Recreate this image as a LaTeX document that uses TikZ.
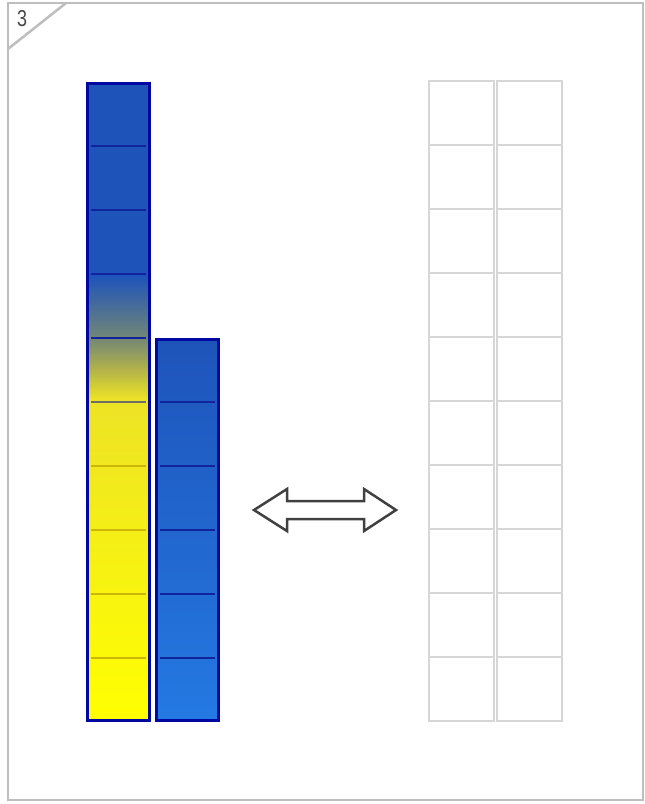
\documentclass[tikz,border=0pt]{standalone}
\usepackage{fontspec}
\setmainfont{Liberation Sans}
\definecolor{framegray}{RGB}{190,190,190}
\definecolor{cellgray}{RGB}{214,214,214}
\definecolor{barborder}{RGB}{0,8,160}
\definecolor{blueA}{RGB}{30,84,186}
\definecolor{blueB}{RGB}{36,121,226}
\definecolor{yelA}{RGB}{255,255,0}
\definecolor{yelB}{RGB}{237,227,38}
\definecolor{midY}{RGB}{180,180,72}
\definecolor{midG}{RGB}{115,135,118}
\definecolor{tickblue}{RGB}{18,36,155}
\definecolor{tickgray}{RGB}{110,110,105}
\definecolor{tickyel}{RGB}{205,182,10}
\definecolor{arrowgray}{RGB}{64,64,64}
\pgfdeclareverticalshading{barone}{100bp}{color(0bp)=(yelA); color(25bp)=(yelA); color(50.2bp)=(yelB); color(52.5bp)=(midY); color(55bp)=(midG); color(59.9bp)=(blueA); color(75bp)=(blueA); color(100bp)=(blueA)}
\pgfdeclareverticalshading{bartwo}{100bp}{color(0bp)=(blueB); color(25bp)=(blueB); color(75bp)=(blueA); color(100bp)=(blueA)}
\tikzset{
  frame/.style={draw=framegray, line width=2.5pt},
  barbox/.style={draw=barborder, line width=3pt},
  tickline/.style={line width=2.5pt},
  cellbox/.style={draw=cellgray, line width=2.5pt, fill=white},
  dblarrow/.style={draw=arrowgray, line width=2.5pt, fill=white, line join=miter},
}
\begin{document}
\begin{tikzpicture}[x=1pt,y=-1pt]
\useasboundingbox (0,0) rectangle (645,804);
% outer frame
\draw[frame] (8,3) rectangle (643,800);
\draw[frame] (66,3) -- (8,49);
\node[anchor=center, inner sep=0pt, font=\fontsize{23}{23}\selectfont, text=black!72] (num) at (22,18.5) {\scalebox{0.78}[1]{3}};
% bar one
\shade[shading=barone] (87.5,83.5) rectangle (149.5,720.5);
\foreach \y/\c in {146/tickblue,210/tickblue,274/tickblue,338/tickblue,402/tickgray,466/tickyel,530/tickyel,594/tickyel,658/tickyel}
  \draw[tickline, draw=\c] (91,\y) -- (146,\y);
\draw[barbox] (87.5,83.5) rectangle (149.5,720.5);
% bar two
\shade[shading=bartwo] (156.5,339.5) rectangle (218.5,720.5);
\foreach \y in {402,466,530,594,658}
  \draw[tickline, draw=tickblue] (160,\y) -- (215,\y);
\draw[barbox] (156.5,339.5) rectangle (218.5,720.5);
% double arrow
\draw[dblarrow] (254,510) -- (287,489) -- (287,501) -- (364,501) -- (364,489) -- (396,510) -- (364,531) -- (364,519) -- (287,519) -- (287,531) -- cycle;
% grid
\foreach \r in {0,...,9}{
  \pgfmathsetmacro{\yt}{81+64*\r}
  \pgfmathsetmacro{\yb}{145+64*\r}
  \draw[cellbox] (429,\yt) rectangle (494,\yb);
  \draw[cellbox] (497,\yt) rectangle (562,\yb);
}
\end{tikzpicture}
\end{document}
